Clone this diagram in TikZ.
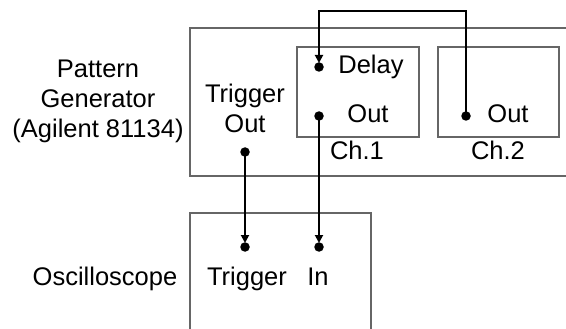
\documentclass[tikz,border=0pt]{standalone}
\usepackage{fontspec}
\setmainfont{Liberation Sans}
\usetikzlibrary{arrows.meta}
\begin{document}
\begin{tikzpicture}[x=1pt,y=-1pt,
  box/.style={draw=black!60,line width=1.2pt},
  lbl/.style={anchor=base,inner sep=0pt,font=\fontsize{25.5}{30}\selectfont},
  pin/.style={circle,fill=black,inner sep=0pt,minimum size=9.5pt},
  wire/.style={line width=1.8pt},
  arr/.style={wire,-{Triangle[length=8pt,width=8pt]},shorten >=4pt}]
\useasboundingbox (0,0) rectangle (566,329);
\clip (0,0) rectangle (566,329);
% boxes
\draw[box] (575,28) -- (190,28) -- (190,176) -- (575,176);
\draw[box] (297,47) rectangle (419,137);
\draw[box] (438,47) rectangle (559,137);
\draw[box] (190,340) -- (190,213) -- (371,213) -- (371,340);
% labels
\node[lbl] (pg1) at (98,78) {Pattern};
\node[lbl] (pg2) at (98,108) {Generator};
\node[lbl] (pg3) at (98,138) {(Agilent 81134)};
\node[lbl] (osc) at (105,285) {Oscilloscope};
\node[lbl] (to1) at (245,103) {Trigger};
\node[lbl] (to2) at (245,132) {Out};
\node[lbl] (dl) at (371,74) {Delay};
\node[lbl] (o1) at (368,123) {Out};
\node[lbl] (o2) at (508,123) {Out};
\node[lbl] (c1) at (357,160) {Ch.1};
\node[lbl] (c2) at (498,160) {Ch.2};
\node[lbl] (st) at (247,285) {Trigger};
\node[lbl] (si) at (318,285) {In};
% pins
\node[pin] (ptrig) at (245,152) {};
\node[pin] (pdelay) at (319,67) {};
\node[pin] (pout1) at (319,116) {};
\node[pin] (pout2) at (466,116) {};
\node[pin] (strig) at (245,247) {};
\node[pin] (sin) at (319,247) {};
\coordinate (tr) at (466,11);
\coordinate (tl) at (319,11);
% wires
\draw[arr] (ptrig.center) -- (strig.center);
\draw[arr] (pout1.center) -- (sin.center);
\draw[arr] (pout2.center) -- (tr) -- (tl) -- (pdelay.center);
\end{tikzpicture}
\end{document}
